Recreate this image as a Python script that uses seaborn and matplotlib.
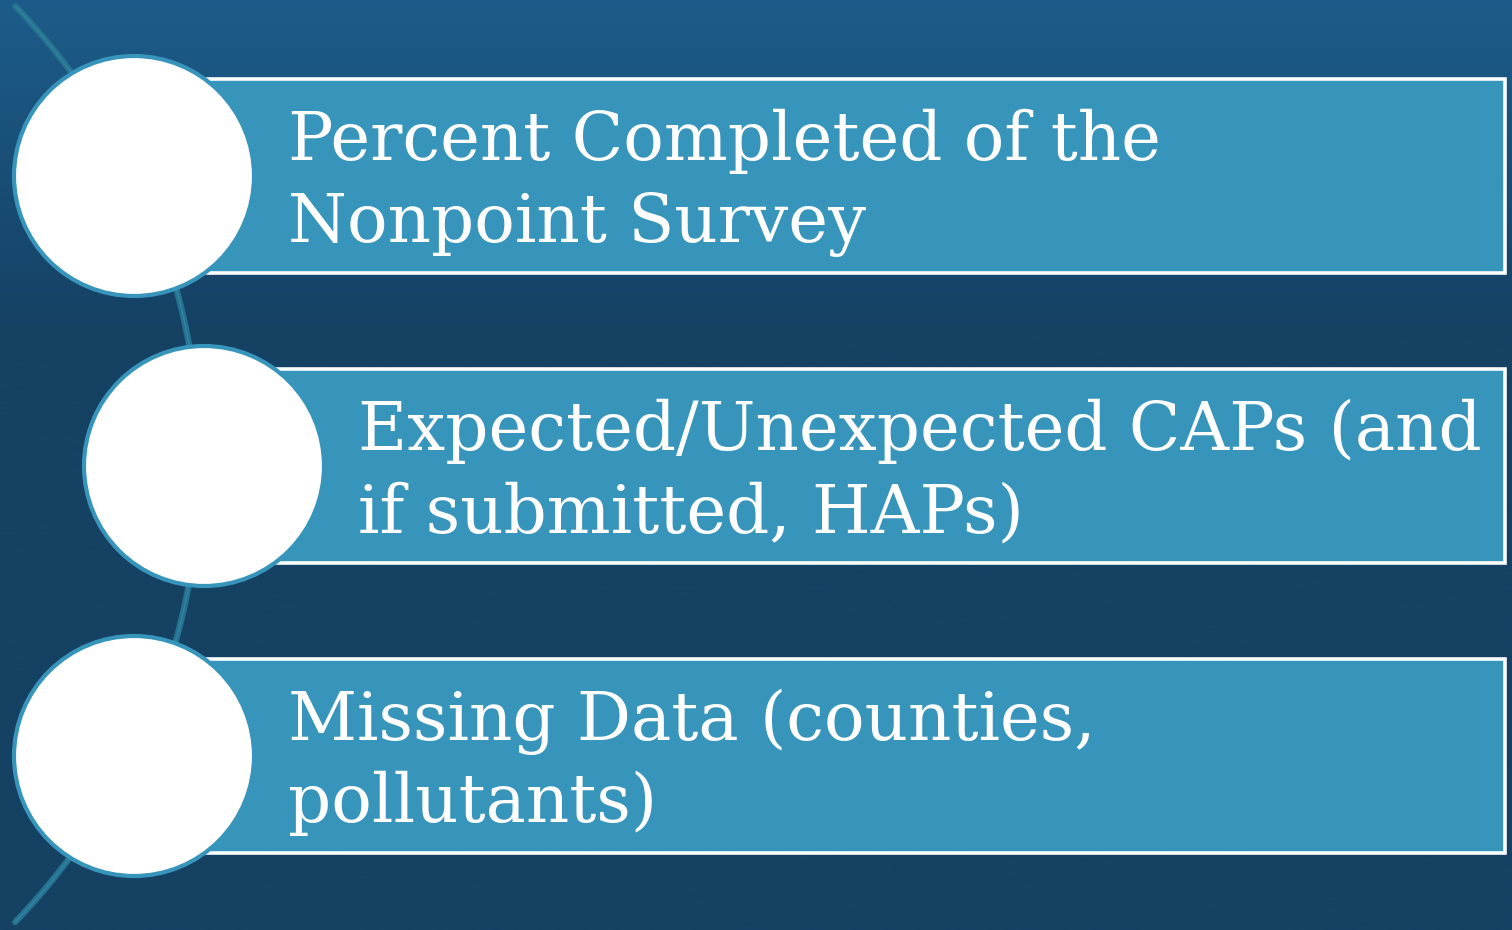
import numpy as np
import matplotlib.pyplot as plt
import matplotlib.patches as mpatches
from matplotlib.colors import LinearSegmentedColormap
import seaborn as sns

# content of the three steps (each entry is one line of text)
STEP_LINES = [
    ["Percent Completed of the", "Nonpoint Survey"],
    ["Expected/Unexpected CAPs (and", "if submitted, HAPs)"],
    ["Missing Data (counties,", "pollutants)"],
]
STEP_INDENT = [0, 1, 0]  # middle step is pushed right along the arc

BG_TOP = "#1d5c8a"
BG_BOTTOM = "#154163"
BOX_FILL = "#3795bc"
ARC_COLOR = "#27738f"

W, H = 1512, 930

sns.set_theme(style="white")
plt.rcParams["font.family"] = ["DejaVu Serif", "DejaVu Sans"]

fig = plt.figure(figsize=(W / 100, H / 100), dpi=100)
ax = fig.add_axes([0, 0, 1, 1])

# background gradient, darker downwards, flat below ~1/3
ys = np.linspace(0, 1, 400)
t = np.clip(ys / 0.36, 0, 1)
cmap = LinearSegmentedColormap.from_list("bg", [BG_TOP, BG_BOTTOM])
ax.imshow(t[:, None], cmap=cmap, aspect="auto", extent=[0, W, H, 0],
          vmin=0, vmax=1, zorder=0)

# the guiding arc behind the circles
R = 660
cx, cy = 200 - R, 464
ang = np.linspace(-np.arcsin(458 / R), np.arcsin(458 / R), 300)
arc_x = cx + R * np.cos(ang)
arc_y = cy + R * np.sin(ang)
sns.lineplot(x=arc_x, y=arc_y, sort=False, estimator=None, color=ARC_COLOR,
             lw=4.5, ax=ax, zorder=1, solid_capstyle="round")
ax.plot(arc_x, arc_y, color="#2f84a6", lw=1.0, zorder=1.1)

row_h = 290
box_h = 194
r = 120
for i, lines in enumerate(STEP_LINES):
    yc = 176 + i * row_h
    shift = 70 * STEP_INDENT[i]
    x0 = 205 + shift
    ax.add_patch(mpatches.Rectangle((x0, yc - box_h / 2), 1505 - x0, box_h,
                                    facecolor=BOX_FILL, edgecolor="white",
                                    lw=2.6, zorder=2))
    ax.add_patch(mpatches.Circle((134 + shift, yc), r, facecolor="white",
                                 edgecolor=BOX_FILL, lw=3, zorder=3))
    for j, line in enumerate(lines):
        ax.text(288 + shift, yc - 16 + 82 * j, line, color="white",
                fontsize=48.5, va="baseline", ha="left", zorder=4)

ax.set_xlim(0, W)
ax.set_ylim(H, 0)
ax.axis("off")
fig.savefig("out.png", dpi=100)
